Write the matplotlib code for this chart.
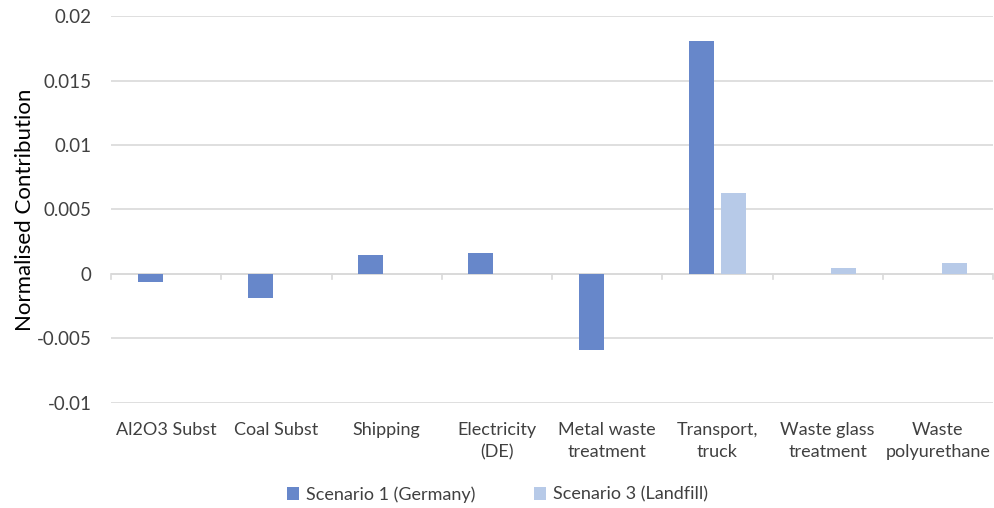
import numpy as np
import matplotlib.pyplot as plt

categories = ['Al2O3 Subst', 'Coal Subst', 'Shipping', 'Electricity\n(DE)',
              'Metal waste\ntreatment', 'Transport,\ntruck', 'Waste glass\ntreatment',
              'Waste\npolyurethane']
scenario1 = [-0.0006, -0.00186, 0.00148, 0.00163, -0.0059, 0.01807, 0, 0]
scenario3 = [0, 0, 0, 0, 0, 0.00628, 0.00048, 0.00086]
yticks = [-0.01, -0.005, 0, 0.005, 0.01, 0.015, 0.02]
ytick_labels = ['-0.01', '-0.005', '0', '0.005', '0.01', '0.015', '0.02']

plt.rcParams['font.family'] = ['Lato', 'DejaVu Sans']

fig = plt.figure(figsize=(9.95, 5.08), dpi=100)
ax = fig.add_axes([0.1116, 0.2067, 0.8864, 0.7618])

x = np.arange(len(categories))
w = 0.227
ax.bar(x - 0.145, scenario1, width=w, color='#6787CA', label='Scenario 1 (Germany)', zorder=3)
ax.bar(x + 0.148, scenario3, width=w, color='#B7CAE8', label='Scenario 3 (Landfill)', zorder=3)

ax.set_xlim(-0.5, len(categories) - 0.5)
ax.set_ylim(-0.01, 0.02)
ax.set_yticks(yticks)
ax.set_yticklabels(ytick_labels, fontsize=13.5, color='#404040')
ax.yaxis.grid(True, color='#D9D9D9', linewidth=1.2, zorder=0)
ax.tick_params(axis='y', length=0, pad=14)

# category labels placed below the plot area, tick marks on the zero line
ax.set_xticks([])
for i, c in enumerate(categories):
    ax.text(i, -0.01 - 0.0015, c, ha='center', va='top', fontsize=13,
            color='#404040', linespacing=1.45, transform=ax.transData)
for b in np.arange(len(categories) + 1) - 0.5:
    ax.plot([b, b], [0, -0.00035], color='#D9D9D9', linewidth=1.2, zorder=2, clip_on=False)
ax.axhline(0, color='#D9D9D9', linewidth=1.2, zorder=2)

for s in ax.spines.values():
    s.set_visible(False)

ax.set_ylabel('Normalised Contribution', fontsize=16, color='#000000', labelpad=1)

fig.legend(loc='center', bbox_to_anchor=(0.5, 0.027), ncol=2, frameon=False,
           fontsize=13, handlelength=0.7, handleheight=0.7, columnspacing=3.2,
           handletextpad=0.4, labelcolor='#404040')

fig.savefig('out.png', dpi=100)
